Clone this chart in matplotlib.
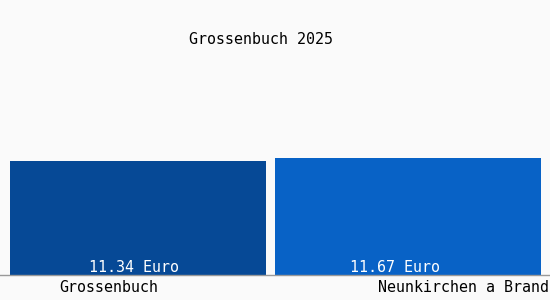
import matplotlib
matplotlib.use('Agg')
import matplotlib.pyplot as plt

places = ['Grossenbuch', 'Neunkirchen a Brand']
values = [11.34, 11.67]
value_labels = ['11.34 Euro', '11.67 Euro']
colors = ['#064996', '#0862c6']
title = 'Grossenbuch 2025'

plt.rcParams['font.family'] = ['DejaVu Sans Mono']

fig = plt.figure(figsize=(5.5, 3.0), dpi=100, facecolor='#fafafa')
# axes: full width, bottom at pixel 275
ax = fig.add_axes([0, 25 / 300, 1, 275 / 300])
ax.set_facecolor('#fafafa')

x = [0, 1]
ax.bar(x, values, width=[0.948, 0.985], color=colors)
ax.set_xlim(-0.511, 1.526)
ax.set_ylim(0, 27.4)

# value labels sit a bit left of the bar centres in the original
for px, lab in zip([134, 395], value_labels):
    fig.text(px / 550, 1 - 268 / 300, lab, ha='center', va='center',
             color='white', fontsize=10.8)

for s in ['top', 'right', 'left']:
    ax.spines[s].set_visible(False)
ax.spines['bottom'].set_color('#999999')
ax.spines['bottom'].set_linewidth(1)
ax.set_xticks([])
ax.set_yticks([])

fig.text(261 / 550, 1 - 39 / 300, title, ha='center', va='center', fontsize=10.8)
fig.text(109 / 550, 1 - 288 / 300, places[0], ha='center', va='center', fontsize=10.8)
fig.text(549 / 550, 1 - 288 / 300, places[1], ha='right', va='center', fontsize=10.8)

fig.savefig('out.png', dpi=100, facecolor=fig.get_facecolor())
